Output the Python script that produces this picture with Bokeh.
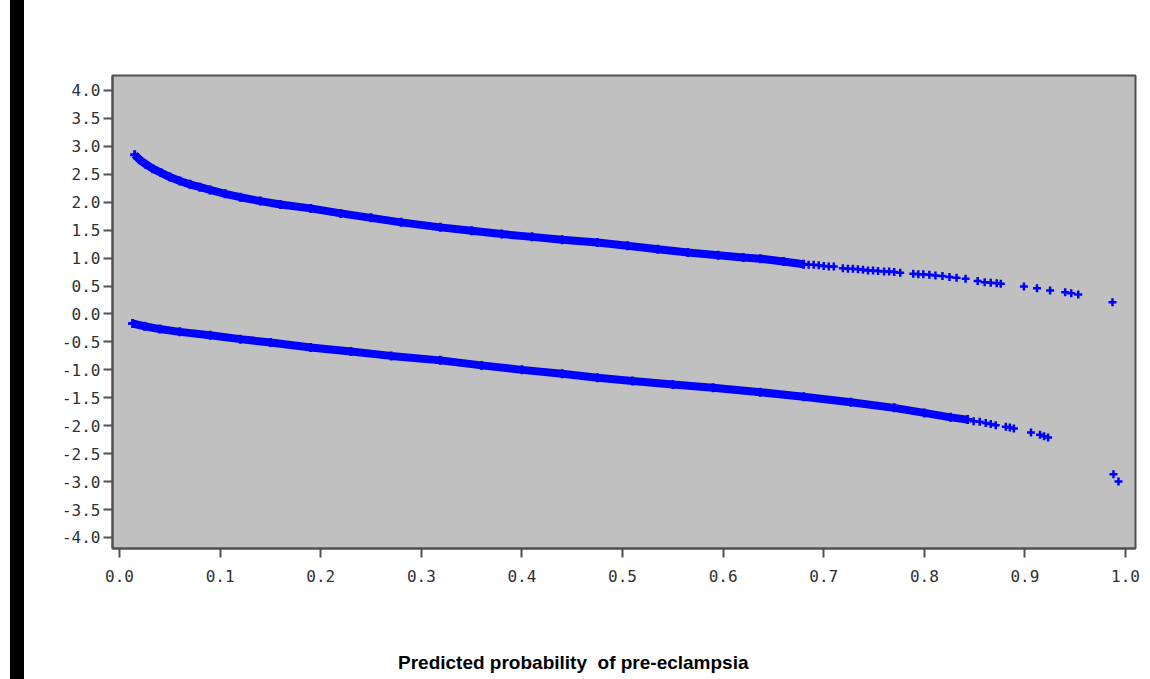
from bokeh.plotting import figure
from bokeh.layouts import row, column
from bokeh.models import Range1d, FixedTicker, NumeralTickFormatter, Div
from bokeh.embed import file_html
from bokeh.resources import INLINE

# Deviance residuals of the pre-eclampsia model against predicted probability.
# Cases (upper band): dense run, then the sparse high-probability tail.
case_dense_p = [0.015, 0.020, 0.026, 0.033, 0.041, 0.050, 0.060, 0.070, 0.080,
                0.090, 0.105, 0.120, 0.140, 0.160, 0.190, 0.220, 0.250, 0.280,
                0.319, 0.350, 0.380, 0.410, 0.440, 0.475, 0.505, 0.535, 0.565,
                0.595, 0.620, 0.637, 0.660, 0.680]
case_dense_r = [2.85, 2.76, 2.68, 2.60, 2.53, 2.45, 2.38, 2.32, 2.27,
                2.22, 2.15, 2.09, 2.02, 1.96, 1.89, 1.80, 1.72, 1.64,
                1.55, 1.49, 1.43, 1.38, 1.33, 1.28, 1.22, 1.16, 1.10,
                1.05, 1.01, 0.99, 0.94, 0.89]
case_tail_p = [0.685, 0.690, 0.695, 0.700, 0.705, 0.710,
               0.719, 0.724, 0.729, 0.734, 0.739, 0.744, 0.749,
               0.754, 0.760, 0.765, 0.770, 0.776,
               0.789, 0.794, 0.799, 0.805, 0.811, 0.818, 0.825, 0.832, 0.841,
               0.853, 0.860, 0.866, 0.872, 0.876,
               0.899, 0.912, 0.925, 0.940, 0.946, 0.953, 0.987]
case_tail_r = [0.88, 0.88, 0.87, 0.86, 0.85, 0.85,
               0.82, 0.81, 0.81, 0.80, 0.79, 0.78, 0.78,
               0.77, 0.76, 0.76, 0.75, 0.74,
               0.72, 0.71, 0.71, 0.70, 0.69, 0.68, 0.66, 0.65, 0.63,
               0.59, 0.57, 0.56, 0.55, 0.54,
               0.49, 0.46, 0.42, 0.39, 0.37, 0.35, 0.21]

# Non-cases (lower band).
ctrl_dense_p = [0.013, 0.025, 0.040, 0.060, 0.090, 0.120, 0.150, 0.190, 0.230,
                0.270, 0.319, 0.360, 0.400, 0.440, 0.475, 0.510, 0.550, 0.590,
                0.637, 0.680, 0.727, 0.770, 0.800, 0.826, 0.843]
ctrl_dense_r = [-0.17, -0.22, -0.27, -0.32, -0.38, -0.45, -0.51, -0.60, -0.67,
                -0.75, -0.83, -0.92, -1.00, -1.07, -1.14, -1.20, -1.26, -1.32,
                -1.40, -1.48, -1.58, -1.68, -1.77, -1.85, -1.89]
ctrl_tail_p = [0.849, 0.855, 0.861, 0.866, 0.871, 0.881, 0.885, 0.889,
               0.906, 0.915, 0.919, 0.923, 0.988, 0.993]
ctrl_tail_r = [-1.92, -1.93, -1.95, -1.97, -1.99, -2.02, -2.03, -2.05,
               -2.12, -2.16, -2.19, -2.21, -2.87, -3.00]

x_ticks = [0.0, 0.1, 0.2, 0.3, 0.4, 0.5, 0.6, 0.7, 0.8, 0.9, 1.0]
y_ticks = [-4.0, -3.5, -3.0, -2.5, -2.0, -1.5, -1.0, -0.5, 0.0,
           0.5, 1.0, 1.5, 2.0, 2.5, 3.0, 3.5, 4.0]

BLUE = "#0000FF"
INK = "#303030"
FRAME = "#505050"

p = figure(width=1126, height=648, output_backend="svg", toolbar_location=None,
           x_range=Range1d(-0.007, 1.0099), y_range=Range1d(-4.197, 4.268),
           min_border_left=88, min_border_right=15, min_border_top=75,
           min_border_bottom=100, margin=0)
p.background_fill_color = "#C0C0C0"
p.border_fill_color = "white"
p.outline_line_color = FRAME
p.outline_line_width = 2
p.grid.visible = False

for ax in (p.xaxis[0], p.yaxis[0]):
    ax.major_label_text_font = "DejaVu Sans Mono"
    ax.major_label_text_font_size = "16px"
    ax.major_label_text_color = INK
    ax.axis_line_color = FRAME
    ax.axis_line_width = 2
    ax.major_tick_line_color = FRAME
    ax.major_tick_line_width = 2
    ax.major_tick_out = 9
    ax.major_tick_in = 0
    ax.minor_tick_out = 0
    ax.minor_tick_in = 0
    ax.formatter = NumeralTickFormatter(format="0.0")

p.xaxis.ticker = FixedTicker(ticks=x_ticks)
p.yaxis.ticker = FixedTicker(ticks=y_ticks)
p.xaxis.major_label_standoff = 12
p.yaxis.major_label_standoff = 3

# dense stretches: solid thick band through the plotted residuals
for xs, ys in ((case_dense_p, case_dense_r), (ctrl_dense_p, ctrl_dense_r)):
    p.line(xs, ys, line_color=BLUE, line_width=8)
    p.scatter(xs, ys, marker="cross", size=9, line_color=BLUE, line_width=3)

# sparse tails: individual plus markers, overlapping into small clusters
for xs, ys in ((case_tail_p, case_tail_r), (ctrl_tail_p, ctrl_tail_r)):
    p.scatter(xs, ys, marker="cross", size=8, line_color=BLUE, line_width=2.5)

# x-axis title, set slightly left of the frame's centre
x_title = Div(width=1126, height=31, margin=0,
              text=('<div style="margin-left:374px; line-height:30px; '
                    'white-space:pre; font-family:\'Liberation Sans\'; '
                    'font-weight:bold; font-size:19px; color:black;">'
                    'Predicted probability  of pre-eclampsia</div>'))

# black band down the left edge, carrying the (dark) y-axis title
spacer = Div(width=10, height=679, margin=0,
             styles={"background-color": "white"})
band = Div(width=14, height=679, margin=0,
           text="Deviance residual",
           styles={"background-color": "black", "color": "black",
                   "writing-mode": "vertical-rl", "transform": "rotate(180deg)",
                   "font-family": "Liberation Sans", "font-weight": "bold",
                   "font-size": "12px", "text-align": "center",
                   "overflow": "hidden"})

layout = row(spacer, band, column(p, x_title, spacing=0, margin=0),
             spacing=0, margin=0)
open("out.html", "w").write(file_html(layout, INLINE))
